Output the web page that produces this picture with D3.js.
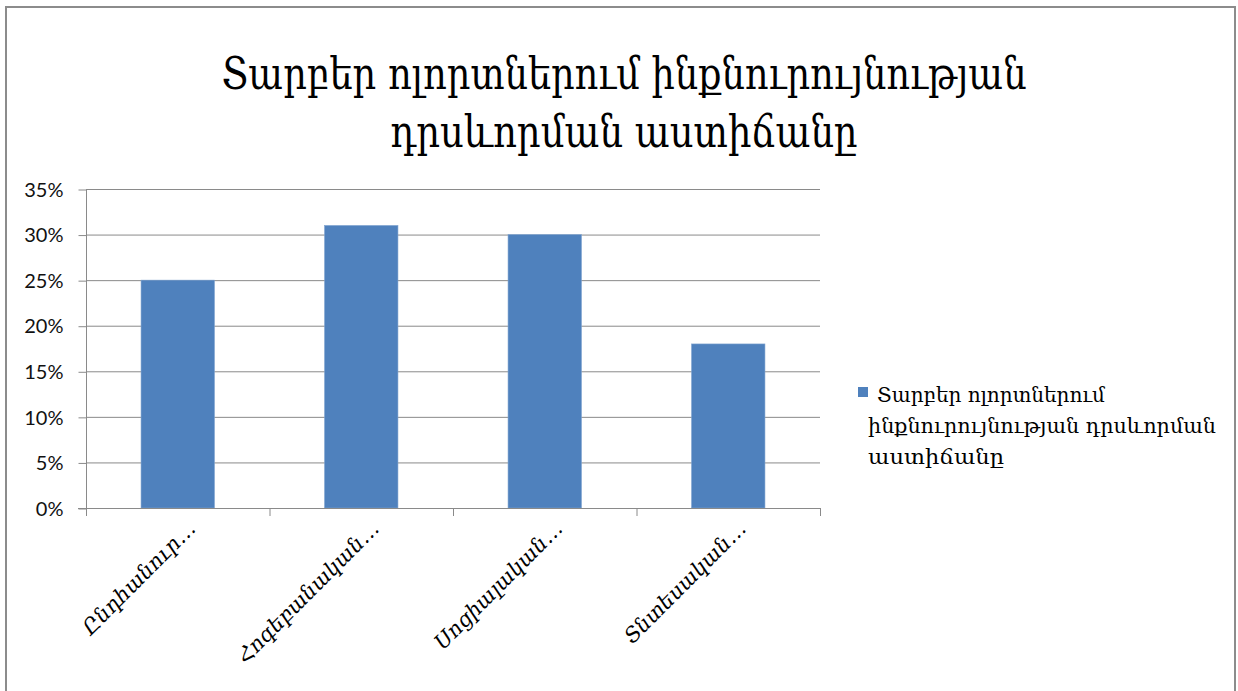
<!DOCTYPE html>
<html><head><meta charset="utf-8">
<script src="https://cdn.jsdelivr.net/npm/d3@7"></script>
<style>html,body{margin:0;padding:0;background:#fff;}</style>
</head><body>
<svg id="c" width="1238" height="691"></svg>
<script>
const titleLines = ["Տարբեր ոլորտներում ինքնուրույնության", "դրսևորման աստիճանը"];
const categories = ["Ընդհանուր…", "Հոգեբանական…", "Սոցիալական…", "Տնտեսական…"];
const values = [0.25, 0.31, 0.30, 0.18];
const seriesName = ["Տարբեր ոլորտներում", "ինքնուրույնության դրսևորման", "աստիճանը"];
const yTicks = [0, 0.05, 0.10, 0.15, 0.20, 0.25, 0.30, 0.35];

const svg = d3.select("#c");
const W = 1238, H = 691;
svg.append("rect").attr("x", 0).attr("y", 0).attr("width", W).attr("height", H).attr("fill", "#fff");
svg.append("rect").attr("x", 6).attr("y", 7).attr("width", 1229).attr("height", 700)
  .attr("fill", "none").attr("stroke", "#8c8c8c").attr("stroke-width", 2);

const m = {left: 86, right: 820, top: 189, bottom: 508};
const x = d3.scaleBand().domain(categories).range([m.left, m.right]).paddingInner(0.6).paddingOuter(0.3);
const y = d3.scaleLinear().domain([0, 0.35]).range([m.bottom, m.top]);

// gridlines
svg.append("g").selectAll("line").data(yTicks.filter(d => d > 0)).join("line")
  .attr("x1", m.left).attr("x2", m.right).attr("y1", d => y(d) + 0.5).attr("y2", d => y(d) + 0.5)
  .attr("stroke", "#8a8a8a").attr("stroke-width", 1);

// y axis
const yAxis = svg.append("g").attr("transform", `translate(${m.left + 0.5},0)`)
  .call(d3.axisLeft(y).tickValues(yTicks).tickFormat(d3.format(".0%")).tickSize(8).tickPadding(15));
yAxis.select(".domain").attr("stroke", "#8a8a8a").attr("d", `M0,${m.top}V${m.bottom}`);
yAxis.selectAll(".tick line").attr("stroke", "#8a8a8a").attr("transform", "translate(0,0.5)");
yAxis.selectAll(".tick text").attr("font-family", "Lato, 'Open Sans', sans-serif").attr("font-size", 20)
  .attr("fill", "#111").attr("dy", "0.36em");

// bars
svg.append("g").selectAll("rect").data(values).join("rect")
  .attr("x", (d, i) => x(categories[i])).attr("width", x.bandwidth())
  .attr("y", d => y(d)).attr("height", d => y(0) - y(d))
  .attr("fill", "#4f81bd").attr("stroke", "#7fa3cf").attr("stroke-width", 0.6);

// x axis
const bounds = d3.range(categories.length + 1).map(i => m.left + i * (m.right - m.left) / categories.length);
const xa = svg.append("g");
xa.append("line").attr("x1", m.left - 8).attr("x2", m.right).attr("y1", m.bottom + 0.5).attr("y2", m.bottom + 0.5)
  .attr("stroke", "#8a8a8a");
xa.selectAll("line.t").data(bounds).join("line").attr("class", "t")
  .attr("x1", d => d + 0.5).attr("x2", d => d + 0.5).attr("y1", m.bottom).attr("y2", m.bottom + 8)
  .attr("stroke", "#8a8a8a");
xa.selectAll("text").data(categories).join("text")
  .attr("transform", d => `translate(${x(d) + x.bandwidth() / 2 + 19},${m.bottom + 22}) rotate(-45)`)
  .attr("text-anchor", "end")
  .attr("font-family", "'DejaVu Serif', 'DejaVu Sans', serif").attr("font-style", "italic")
  .attr("font-size", 21).attr("fill", "#000").text(d => d);

// title
svg.append("g").selectAll("text").data(titleLines).join("text")
  .attr("x", 624).attr("y", (d, i) => 89 + i * 58)
  .attr("text-anchor", "middle").attr("font-family", "'DejaVu Serif', 'DejaVu Sans', serif")
  .attr("font-size", 45).attr("fill", "#000")
  .attr("textLength", (d, i) => i === 0 ? 805 : 467).attr("lengthAdjust", "spacingAndGlyphs")
  .text(d => d);

// legend
const lg = svg.append("g");
lg.append("rect").attr("x", 858).attr("y", 387).attr("width", 10).attr("height", 10).attr("fill", "#4f81bd");
lg.selectAll("text").data(seriesName).join("text")
  .attr("x", (d, i) => i === 0 ? 877 : 868).attr("y", (d, i) => 402 + i * 31)
  .attr("font-family", "'DejaVu Serif', 'DejaVu Sans', serif").attr("font-size", 20).attr("fill", "#000")
  .attr("textLength", (d, i) => [228, 348, 136][i]).attr("lengthAdjust", "spacingAndGlyphs")
  .text(d => d);
</script>
</body></html>
